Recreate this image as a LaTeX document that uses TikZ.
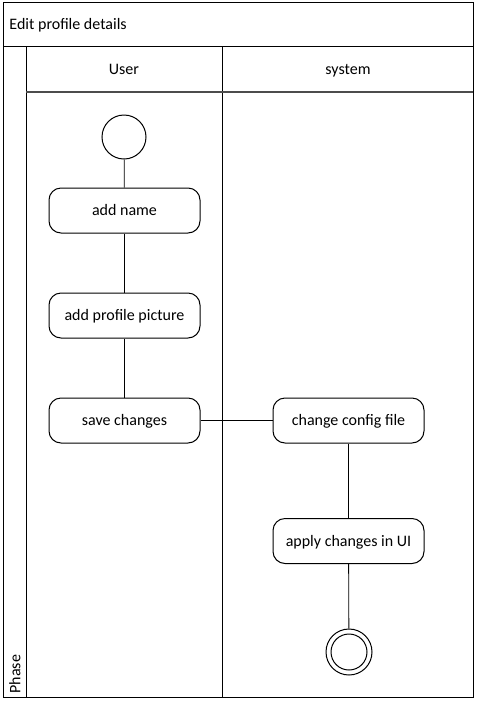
\documentclass[tikz,border=0pt]{standalone}
\usepackage{fontspec}
\setmainfont{Carlito}
\begin{document}
\begin{tikzpicture}[x=0.75pt,y=-0.75pt,
  line width=0.75pt,
  act/.style={draw,rounded corners=9pt,minimum width=151*0.75pt,minimum height=45*0.75pt,inner sep=0pt,text height=10pt,text depth=2pt,font=\fontsize{12}{14}\selectfont},
  lbl/.style={font=\fontsize{12}{14}\selectfont,inner sep=0pt},
  conn/.style={draw,line width=0.6pt}]
\useasboundingbox (0,0) rectangle (476,704);
\draw (3,2) rectangle (473,697);
\draw (3,46) -- (473,46);
\draw (26,46) -- (26,697);
\draw (222,46) -- (222,697);
\draw[line width=1.1pt, black!70] (26,92) -- (473,92);
\node[lbl,anchor=base west] (title) at (9,29) {Edit profile details};
\node[lbl,anchor=base] (user) at (124,74) {User};
\node[lbl,anchor=base] (sys) at (348,74) {system};
\node[lbl,anchor=west,rotate=90] (phase) at (15,694) {Phase};
\node[draw,circle,minimum size=44*0.75pt,inner sep=0pt] (start) at (124,137) {};
\node[act] (a1) at (124.5,210.5) {add name};
\node[act] (a2) at (124.5,315.5) {add profile picture};
\node[act] (a3) at (124.5,420.5) {save changes};
\node[act] (b1) at (348.5,420.5) {change config file};
\node[act] (b2) at (348.5,541) {apply changes in UI};
\node[draw,circle,minimum size=46*0.75pt,inner sep=0pt] (end) at (349,652) {};
\node[draw,circle,minimum size=36*0.75pt,inner sep=0pt] (endin) at (349,652) {};
\draw[conn] (start) -- (a1);
\draw[conn] (a1) -- (a2);
\draw[conn] (a2) -- (a3);
\draw[conn] (a3) -- (b1);
\draw[conn] (b1) -- (b2);
\draw[conn] (b2) -- (end);
\end{tikzpicture}
\end{document}
